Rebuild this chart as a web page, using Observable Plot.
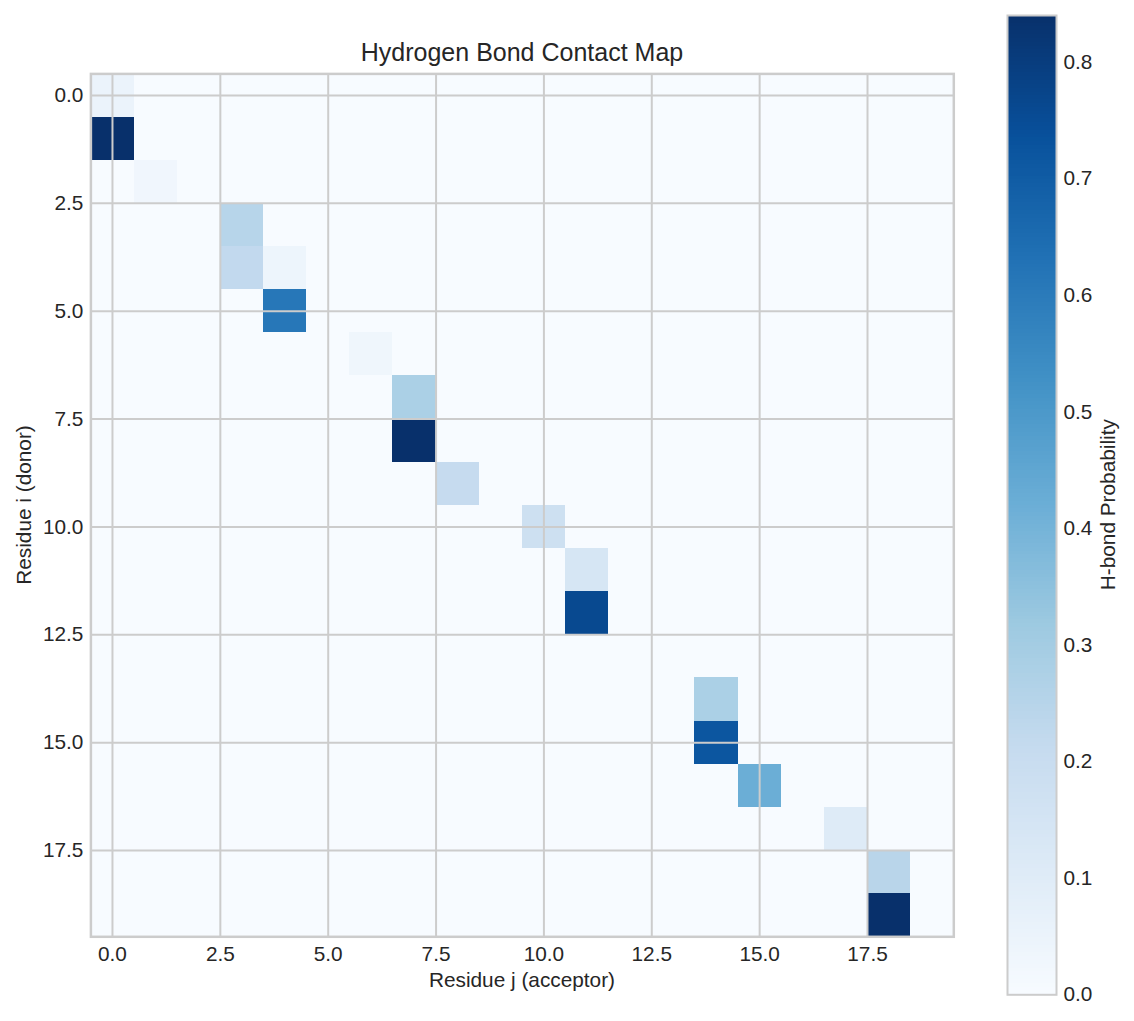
<!DOCTYPE html>
<html>
<head>
<meta charset="utf-8">
<script src="https://cdn.jsdelivr.net/npm/d3@7"></script>
<script src="https://cdn.jsdelivr.net/npm/@observablehq/plot@0.6"></script>
<style>
  html, body { margin: 0; padding: 0; background: #ffffff; }
  #chart { position: relative; width: 1134px; height: 1021px; font-family: "Liberation Sans", Arial, sans-serif; color: #262626; }
  #chart > svg { position: absolute; top: 0; }
</style>
</head>
<body>
<div id="chart"></div>
<script>
// Hydrogen-bond probabilities between donor residue i and acceptor residue j
const nResidues = 20;
const donors    = [0,    1,    2,    3,    4,    4,    5,    6,     7,    8,    9,    10,   11,   12,   14,   15,   16,   17,    18,    19];
const acceptors = [0,    0,    1,    3,    3,    4,    4,    6,     7,    7,    8,    10,   11,   11,   14,   14,   15,   17,    18,    18];
const probs     = [0.05, 0.84, 0.03, 0.25, 0.22, 0.04, 0.61, 0.035, 0.28, 0.84, 0.21, 0.18, 0.14, 0.76, 0.28, 0.72, 0.42, 0.105, 0.245, 0.84];

const axisTicks = [0, 2.5, 5, 7.5, 10, 12.5, 15, 17.5];
const colorbarTicks = [0, 0.1, 0.2, 0.3, 0.4, 0.5, 0.6, 0.7, 0.8];
const bluesStops = ["#f7fbff", "#deebf7", "#c6dbef", "#9ecae1", "#6baed6", "#4292c6", "#2171b5", "#08519c", "#08306b"];

const titleText = "Hydrogen Bond Contact Map";
const xLabelText = "Residue j (acceptor)";
const yLabelText = "Residue i (donor)";
const colorbarLabelText = "H-bond Probability";

// Full 20x20 matrix, zero where no bond was observed
const matrix = d3.range(nResidues).map(() => new Array(nResidues).fill(0));
donors.forEach((i, k) => { matrix[i][acceptors[k]] = probs[k]; });
const cells = [];
for (let i = 0; i < nResidues; i++) for (let j = 0; j < nResidues; j++) cells.push({i, j, p: matrix[i][j]});

const vmax = d3.max(probs);
const colorScale = {type: "linear", domain: [0, vmax], interpolate: d3.piecewise(d3.interpolateRgb, bluesStops)};
const fmt1 = d => d.toFixed(1);
const textColor = "#262626";
const gridColor = "#cccccc";
const fontFamily = '"Liberation Sans", Arial, sans-serif';

const chart = document.getElementById("chart");

// Heatmap
const main = Plot.plot({
  width: 1000,
  height: 1021,
  marginTop: 73.4,
  marginBottom: 84.7,
  marginLeft: 90.4,
  marginRight: 46.7,
  style: {fontFamily, fontSize: "20.8px", color: textColor, background: "transparent", overflow: "visible"},
  x: {domain: [-0.5, nResidues - 0.5], ticks: axisTicks, tickFormat: fmt1, tickSize: 0, tickPadding: 9, label: null},
  y: {domain: [-0.5, nResidues - 0.5], reverse: true, ticks: axisTicks, tickFormat: fmt1, tickSize: 0, tickPadding: 7.5, label: null},
  color: colorScale,
  marks: [
    Plot.rect(cells, {
      x1: d => d.j - 0.5, x2: d => d.j + 0.5,
      y1: d => d.i - 0.5, y2: d => d.i + 0.5,
      fill: "p", shapeRendering: "crispEdges"
    }),
    Plot.ruleX(axisTicks, {stroke: gridColor, strokeWidth: 2}),
    Plot.ruleY(axisTicks, {stroke: gridColor, strokeWidth: 2}),
    Plot.frame({stroke: gridColor, strokeWidth: 2.5})
  ]
});
main.style.left = "0px";
chart.appendChild(main);

// Vertical colorbar
const rampSteps = d3.range(256);
const colorbar = Plot.plot({
  width: 134,
  height: 1021,
  marginTop: 15,
  marginBottom: 26.7,
  marginLeft: 7,
  marginRight: 78,
  style: {fontFamily, fontSize: "20.8px", color: textColor, background: "transparent", overflow: "visible"},
  x: {domain: [0, 1], axis: null},
  y: {domain: [0, vmax], axis: "right", ticks: colorbarTicks, tickFormat: fmt1, tickSize: 0, tickPadding: 7, label: null},
  color: colorScale,
  marks: [
    Plot.rect(rampSteps, {
      x1: 0, x2: 1,
      y1: k => k / rampSteps.length * vmax,
      y2: k => (k + 1) / rampSteps.length * vmax,
      fill: k => (k + 0.5) / rampSteps.length * vmax,
      shapeRendering: "crispEdges"
    }),
    Plot.frame({stroke: gridColor, strokeWidth: 2})
  ]
});
colorbar.style.left = "1000px";
chart.appendChild(colorbar);

// Title and axis labels
const overlay = d3.create("svg")
  .attr("width", 1134).attr("height", 1021)
  .style("left", "0px").style("pointer-events", "none")
  .attr("font-family", fontFamily).attr("fill", textColor);
overlay.append("text").attr("x", 522).attr("y", 60.7)
  .attr("text-anchor", "middle").attr("font-size", 25).text(titleText);
overlay.append("text").attr("x", 522).attr("y", 986.5)
  .attr("text-anchor", "middle").attr("font-size", 20.8).text(xLabelText);
overlay.append("text").attr("transform", "translate(31,505) rotate(-90)")
  .attr("text-anchor", "middle").attr("font-size", 20.8).text(yLabelText);
overlay.append("text").attr("transform", "translate(1115,504.7) rotate(-90)")
  .attr("text-anchor", "middle").attr("font-size", 20.8).text(colorbarLabelText);
chart.appendChild(overlay.node());
</script>
</body>
</html>
